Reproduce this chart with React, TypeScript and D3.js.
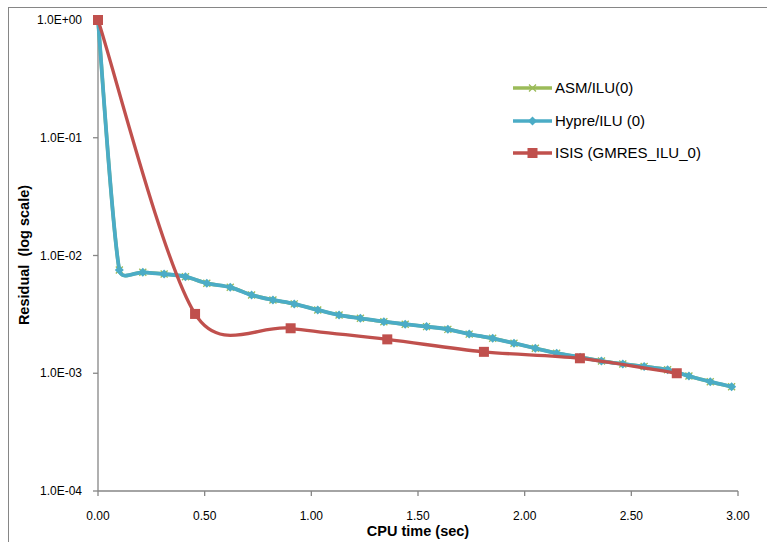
import React from "react";
import * as d3 from "d3";

const W = 767;
const H = 542;

// Hypre/ILU(0) — CPU time (s) and residual
const hypreX = [0, 0.10, 0.21, 0.31, 0.41, 0.51, 0.62, 0.72, 0.82, 0.92, 1.03, 1.13, 1.23, 1.34, 1.44, 1.54, 1.64, 1.74, 1.85, 1.95, 2.05, 2.15, 2.26, 2.36, 2.46, 2.56, 2.67, 2.77, 2.87, 2.97];
const hypreY = [1.0, 7.53e-3, 7.2e-3, 6.96e-3, 6.61e-3, 5.81e-3, 5.37e-3, 4.62e-3, 4.19e-3, 3.88e-3, 3.45e-3, 3.12e-3, 2.93e-3, 2.74e-3, 2.61e-3, 2.49e-3, 2.36e-3, 2.15e-3, 1.98e-3, 1.8e-3, 1.63e-3, 1.48e-3, 1.37e-3, 1.27e-3, 1.2e-3, 1.14e-3, 1.07e-3, 9.48e-4, 8.48e-4, 7.69e-4];

// ASM/ILU(0) — almost identical to Hypre
const asmX = [0, 0.10, 0.21, 0.31, 0.41, 0.51, 0.62, 0.72, 0.82, 0.92, 1.03, 1.13, 1.23, 1.34, 1.44, 1.54, 1.64, 1.74, 1.85, 1.95, 2.05, 2.15, 2.26, 2.36, 2.46, 2.56, 2.67, 2.77, 2.87, 2.97];
const asmY = [1.0, 7.53e-3, 7.2e-3, 6.96e-3, 6.61e-3, 5.81e-3, 5.37e-3, 4.62e-3, 4.19e-3, 3.88e-3, 3.45e-3, 3.12e-3, 2.93e-3, 2.74e-3, 2.61e-3, 2.49e-3, 2.36e-3, 2.15e-3, 1.98e-3, 1.8e-3, 1.63e-3, 1.48e-3, 1.37e-3, 1.27e-3, 1.2e-3, 1.14e-3, 1.07e-3, 9.48e-4, 8.48e-4, 7.69e-4];

// ISIS (GMRES_ILU_0)
const isisX = [0, 0.455, 0.903, 1.356, 1.809, 2.259, 2.713];
const isisY = [1.0, 3.19e-3, 2.41e-3, 1.94e-3, 1.52e-3, 1.34e-3, 1.0e-3];

const xTicks = [0, 0.5, 1, 1.5, 2, 2.5, 3];
const yTicks = [1, 1e-1, 1e-2, 1e-3, 1e-4];
const yTickLabels = ["1.0E+00", "1.0E-01", "1.0E-02", "1.0E-03", "1.0E-04"];
const legendNames = ["ASM/ILU(0)", "Hypre/ILU (0)", "ISIS (GMRES_ILU_0)"];

const GREEN = "#9BBB59";
const BLUE = "#4BACC6";
const RED = "#C0504D";
const AXIS = "#868686";
const FONT = "'Liberation Sans', Arial, sans-serif";

const x = d3.scaleLinear().domain([0, 3]).range([98, 738]);
const y = d3.scaleLog().domain([1e-4, 1]).range([491, 20]);

type P = [number, number];

// Excel-like smoothed line (Bezier with capped 1/6 tangents)
function smoothPath(pts: P[]): string {
  const p = d3.path();
  if (!pts.length) return "";
  p.moveTo(pts[0][0], pts[0][1]);
  const dist = (a: P, b: P) => Math.hypot(b[0] - a[0], b[1] - a[1]);
  for (let i = 0; i < pts.length - 1; i++) {
    const p0 = pts[i - 1] ?? pts[i];
    const p1 = pts[i];
    const p2 = pts[i + 1];
    const p3 = pts[i + 2] ?? pts[i + 1];
    const d12 = dist(p1, p2);
    const v1: P = [p2[0] - p0[0], p2[1] - p0[1]];
    const v2: P = [p3[0] - p1[0], p3[1] - p1[1]];
    const l1 = Math.hypot(v1[0], v1[1]) || 1;
    const l2 = Math.hypot(v2[0], v2[1]) || 1;
    let f1 = 1 / 6;
    let f2 = 1 / 6;
    if (l1 * f1 > d12 / 2) f1 = d12 / 2 / l1;
    if (l2 * f2 > d12 / 2) f2 = d12 / 2 / l2;
    p.bezierCurveTo(
      p1[0] + v1[0] * f1, p1[1] + v1[1] * f1,
      p2[0] - v2[0] * f2, p2[1] - v2[1] * f2,
      p2[0], p2[1]
    );
  }
  return p.toString();
}

function toPts(xs: number[], ys: number[]): P[] {
  return xs.map((v, i) => [x(v), y(ys[i])] as P);
}

const Diamond = ({ cx, cy, s, color }: { cx: number; cy: number; s: number; color: string }) => (
  <path d={`M${cx},${cy - s}L${cx + s},${cy}L${cx},${cy + s}L${cx - s},${cy}Z`} fill={color} />
);
const Cross = ({ cx, cy, s, color }: { cx: number; cy: number; s: number; color: string }) => (
  <path d={`M${cx - s},${cy - s}L${cx + s},${cy + s}M${cx - s},${cy + s}L${cx + s},${cy - s}`} stroke={color} strokeWidth={1.3} fill="none" />
);
const Square = ({ cx, cy, s, color }: { cx: number; cy: number; s: number; color: string }) => (
  <rect x={cx - s} y={cy - s} width={2 * s} height={2 * s} fill={color} />
);

export default function App() {
  const asmPts = toPts(asmX, asmY);
  const hyprePts = toPts(hypreX, hypreY);
  const isisPts = toPts(isisX, isisY);
  const legendY = [88, 121, 153];

  return (
    <svg width={W} height={H} style={{ position: "absolute", left: 0, top: 0, background: "#fff" }} fontFamily={FONT}>
      <rect x={0} y={0} width={W} height={H} fill="#fff" />
      <rect x={8.5} y={7.5} width={W + 20} height={H + 20} fill="none" stroke={AXIS} strokeWidth={1} />

      {/* axes */}
      <line x1={x(0)} x2={x(0)} y1={y(1)} y2={y(1e-4)} stroke={AXIS} strokeWidth={1.3} />
      <line x1={x(0)} x2={x(3)} y1={y(1e-4)} y2={y(1e-4)} stroke={AXIS} strokeWidth={1.3} />
      {yTicks.map((t, i) => (
        <g key={"yt" + i}>
          <line x1={x(0) - 5} x2={x(0)} y1={y(t)} y2={y(t)} stroke={AXIS} strokeWidth={1.3} />
          <text x={82} y={y(t)} dy="0.35em" textAnchor="end" fontSize={12} fill="#000">
            {yTickLabels[i]}
          </text>
        </g>
      ))}
      {xTicks.map((t, i) => (
        <g key={"xt" + i}>
          <line x1={x(t)} x2={x(t)} y1={y(1e-4)} y2={y(1e-4) + 5} stroke={AXIS} strokeWidth={1.3} />
          <text x={x(t)} y={516} dy="0.35em" textAnchor="middle" fontSize={12} fill="#000">
            {d3.format(".2f")(t)}
          </text>
        </g>
      ))}
      <text x={418} y={531} dy="0.35em" textAnchor="middle" fontSize={14.5} fontWeight="bold">
        CPU time (sec)
      </text>
      <text transform={`translate(24,255) rotate(-90)`} dy="0.35em" textAnchor="middle" fontSize={14.5} fontWeight="bold" style={{ whiteSpace: "pre" }}>
        {"Residual  (log scale)"}
      </text>

      {/* series */}
      <path d={smoothPath(asmPts)} fill="none" stroke={GREEN} strokeWidth={3.5} strokeLinejoin="round" />
      {asmPts.map((p, i) => (
        <Cross key={"a" + i} cx={p[0]} cy={p[1]} s={3.5} color={GREEN} />
      ))}
      <path d={smoothPath(hyprePts)} fill="none" stroke={BLUE} strokeWidth={3.8} strokeLinejoin="round" />
      {hyprePts.map((p, i) => (
        <Diamond key={"h" + i} cx={p[0]} cy={p[1]} s={4.5} color={BLUE} />
      ))}
      <path d={smoothPath(isisPts)} fill="none" stroke={RED} strokeWidth={3.3} strokeLinejoin="round" />
      {isisPts.map((p, i) => (
        <Square key={"r" + i} cx={p[0]} cy={p[1]} s={5} color={RED} />
      ))}

      {/* legend */}
      {legendNames.map((name, i) => {
        const ly = legendY[i];
        const color = [GREEN, BLUE, RED][i];
        return (
          <g key={"lg" + i}>
            <line x1={513} x2={552} y1={ly} y2={ly} stroke={color} strokeWidth={3.5} />
            {i === 0 && <Cross cx={532.5} cy={ly} s={3.5} color={GREEN} />}
            {i === 1 && <Diamond cx={532.5} cy={ly} s={4.5} color={BLUE} />}
            {i === 2 && <Square cx={532.5} cy={ly} s={5} color={RED} />}
            <text x={555} y={ly} dy="0.35em" fontSize={15} fill="#000">
              {name}
            </text>
          </g>
        );
      })}
    </svg>
  );
}
